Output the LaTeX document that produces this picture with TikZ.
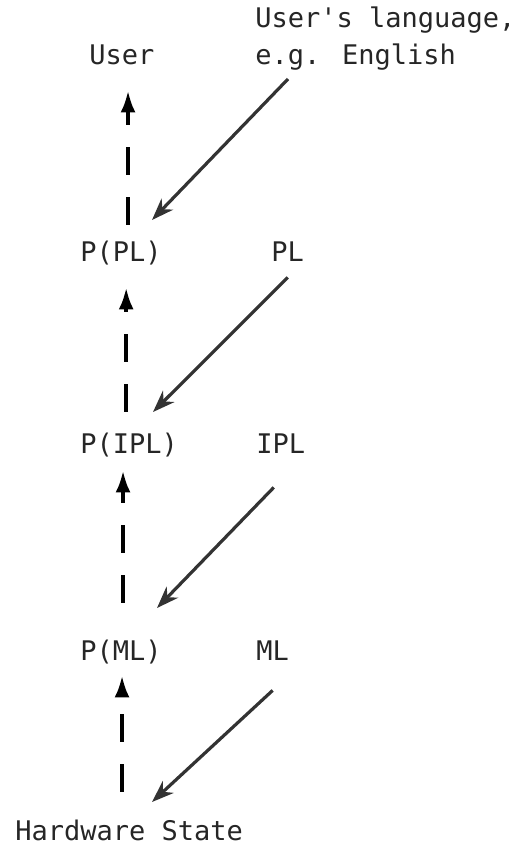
\documentclass[tikz,border=0pt]{standalone}
\usepackage{fontspec}
\newfontfamily\labelfont{DejaVu Sans Mono}
\usetikzlibrary{arrows.meta,calc}

\tikzset{
  lbl/.style={font=\labelfont\fontsize{13.5}{16}\selectfont, inner sep=0pt,
              text height=11pt, text depth=0pt, anchor=base west, text=black!85},
  feed/.style={draw=black!80, line width=1.6pt,
               -{Stealth[length=11pt, width=8pt, inset=3.5pt]}},
  lift/.style={draw=black, line width=2pt, dash pattern=on 14pt off 11pt,
               -{Latex[length=11pt, width=7.5pt]}}
}

\begin{document}
\begin{tikzpicture}[x=0.5pt, y=-0.5pt]
  \useasboundingbox (0,0) rectangle (516,844);

  % levels of the hierarchy (left column)
  \node[lbl] (user) at (89,65)  {User};
  \node[lbl] (ppl)  at (80,262) {P(PL)};
  \node[lbl] (pipl) at (80,453) {P(IPL)};
  \node[lbl] (pml)  at (80,660) {P(ML)};
  \node[lbl] (hw)   at (15,840) {Hardware State};

  % languages (right column)
  \node[lbl] (ul)  at (255,28)  {User's language,};
  \node[lbl] (eg)  at (255,65)  {e.g. English};
  \node[lbl] (pl)  at (271,262) {PL};
  \node[lbl] (ipl) at (256,453) {IPL};
  \node[lbl] (ml)  at (256,660) {ML};

  % where each language arrow lands
  \coordinate (t1) at (152,220);
  \coordinate (t2) at (153,412);
  \coordinate (t3) at (157,608);
  \coordinate (t4) at (152,802);

  % dashed upward arrows between levels
  \draw[lift, shorten <=7.5pt, shorten >=12.5pt]
    ([xshift=3.5pt]ppl.north) -- ([xshift=3.5pt]ppl.north |- user.south);
  \draw[lift, shorten <=9.5pt, shorten >=12.5pt]
    ([xshift=-1.5pt]pipl.north) -- ([xshift=-1.5pt]pipl.north |- ppl.south);
  \draw[lift, shorten <=17.5pt, shorten >=8.5pt]
    ([xshift=1pt]pml.north) -- ([xshift=1pt]pml.north |- pipl.south);
  \draw[lift, shorten <=13pt, shorten >=7.5pt]
    ([xshift=0.5pt]pml.south |- hw.north) -- ([xshift=0.5pt]pml.south);

  % diagonal arrows from each language
  \draw[feed] ([xshift=16.5pt,yshift=-7pt]eg.base west) -- (t1);
  \draw[feed] ([yshift=-7.5pt]pl.south) -- (t2);
  \draw[feed] ([xshift=-3.5pt,yshift=-17pt]ipl.south) -- (t3);
  \draw[feed] ([yshift=-15pt]ml.south) -- (t4);
\end{tikzpicture}
\end{document}
